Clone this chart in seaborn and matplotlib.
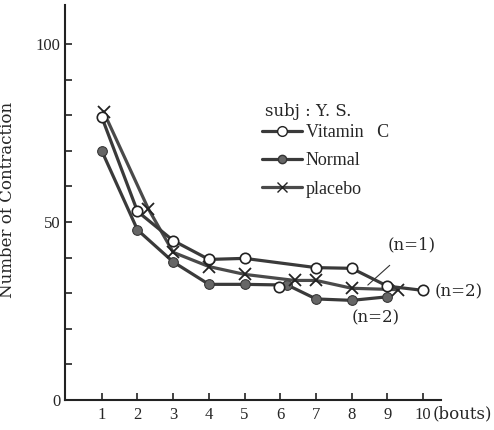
import matplotlib
matplotlib.use("Agg")
import matplotlib.pyplot as plt
import seaborn as sns
import pandas as pd
from matplotlib.lines import Line2D

# ---- data ----
vitc_x = [1, 2, 3, 4, 5, 7, 8, 9, 10]
vitc_y = [79.5, 53, 44.8, 39.5, 39.8, 37.2, 37.0, 32.0, 30.8]
vitc_extra_x = [5.95]
vitc_extra_y = [31.7]

normal_x = [1, 2, 3, 4, 5, 6.2, 7, 8, 9]
normal_y = [70, 47.8, 38.8, 32.5, 32.5, 32.3, 28.4, 28.0, 29.0]

placebo_x = [1.05, 2.3, 3.0, 4.0, 5.0, 6.4, 7.0, 8.0, 9.3]
placebo_y = [81, 53.8, 41.5, 37.5, 35.3, 33.6, 33.6, 31.4, 31.0]

xticks = list(range(1, 11))
yticks_major = [0, 50, 100]
yticks_minor = list(range(0, 101, 10))
series_labels = ["Vitamin   C", "Normal", "placebo"]

sns.set_theme(style="white")
plt.rcParams["font.family"] = ["Liberation Serif", "DejaVu Serif"]
WIDE = ["DejaVu Serif"]

ink = "#3a3a3a"
fig = plt.figure(figsize=(4.94, 4.30), dpi=100)
ax = fig.add_axes([65 / 494, 30 / 430, 376 / 494, 395 / 430])

df_v = pd.DataFrame({"x": vitc_x, "y": vitc_y})
df_n = pd.DataFrame({"x": normal_x, "y": normal_y})
df_p = pd.DataFrame({"x": placebo_x, "y": placebo_y})

sns.lineplot(data=df_n, x="x", y="y", ax=ax, sort=False, estimator=None,
             color=ink, lw=2.3, marker="o", markersize=7,
             markerfacecolor="#666666", markeredgecolor="#333333")
sns.lineplot(data=df_p, x="x", y="y", ax=ax, sort=False, estimator=None,
             color="#4a4a4a", lw=2.3, marker="x", markersize=8,
             markeredgewidth=1.3, markeredgecolor="#222222")
sns.lineplot(data=df_v, x="x", y="y", ax=ax, sort=False, estimator=None,
             color=ink, lw=2.3, marker="o", markersize=7.5,
             markerfacecolor="white", markeredgecolor="#222222", markeredgewidth=1.2)
sns.scatterplot(x=vitc_extra_x, y=vitc_extra_y, ax=ax, marker="o", s=56,
                facecolor="white", edgecolor="#222222", linewidth=1.2, zorder=5)

ax.set_xlim(-0.03, 10.5)
ax.set_ylim(0, 111)
ax.set_xticks(xticks)
ax.set_xticklabels([str(t) for t in xticks], fontsize=12)
ax.set_yticks(yticks_minor)
ax.set_yticklabels([str(t) if t in yticks_major else "" for t in yticks_minor], fontsize=12)
ax.tick_params(axis="both", direction="in", length=5, width=1.2, color="#222222",
               left=True, bottom=True)
ax.tick_params(axis="x", pad=5)
ax.tick_params(axis="y", pad=3)
for s in ["top", "right"]:
    ax.spines[s].set_visible(False)
for s in ["left", "bottom"]:
    ax.spines[s].set_color("#222222")
    ax.spines[s].set_linewidth(1.5)
ax.set_xlabel("")
ax.set_ylabel("Number of Contraction", fontsize=12, family=WIDE)
ax.yaxis.set_label_coords(-0.13, 0.506)

ax.text(10.27, -3.9, "(bouts)", fontsize=12, family=WIDE, ha="left", va="center",
        clip_on=False)

# legend
handles = [
    Line2D([], [], color=ink, lw=2.3, marker="o", markersize=7,
           markerfacecolor="white", markeredgecolor="#222222"),
    Line2D([], [], color=ink, lw=2.3, marker="o", markersize=6,
           markerfacecolor="#666666", markeredgecolor="#333333"),
    Line2D([], [], color="#4a4a4a", lw=2.3, marker="x", markersize=7,
           markeredgecolor="#222222"),
]
leg = ax.legend(handles, series_labels, frameon=False, fontsize=13,
                loc="upper left",
                bbox_to_anchor=(255 / 494, 1 - 117 / 430),
                bbox_transform=fig.transFigure,
                handlelength=2.2, handletextpad=0.2, labelspacing=0.62,
                borderaxespad=0)
fig.text(265 / 494, 1 - 112 / 430, "subj : Y. S.", fontsize=12, family=WIDE,
         ha="left", va="center")

# annotations
ax.annotate("(n=1)", xy=(8.45, 32.3), xytext=(9.69, 43.5), fontsize=12,
            family=WIDE, ha="center", va="center",
            arrowprops=dict(arrowstyle="-", color="#333333", lw=0.8,
                            shrinkA=9, shrinkB=0))
ax.text(10.33, 30.3, "(n=2)", fontsize=12, family=WIDE, ha="left", va="center",
        clip_on=False)
ax.text(8.66, 23.0, "(n=2)", fontsize=12, family=WIDE, ha="center", va="center")

fig.savefig("out.png", dpi=100)
